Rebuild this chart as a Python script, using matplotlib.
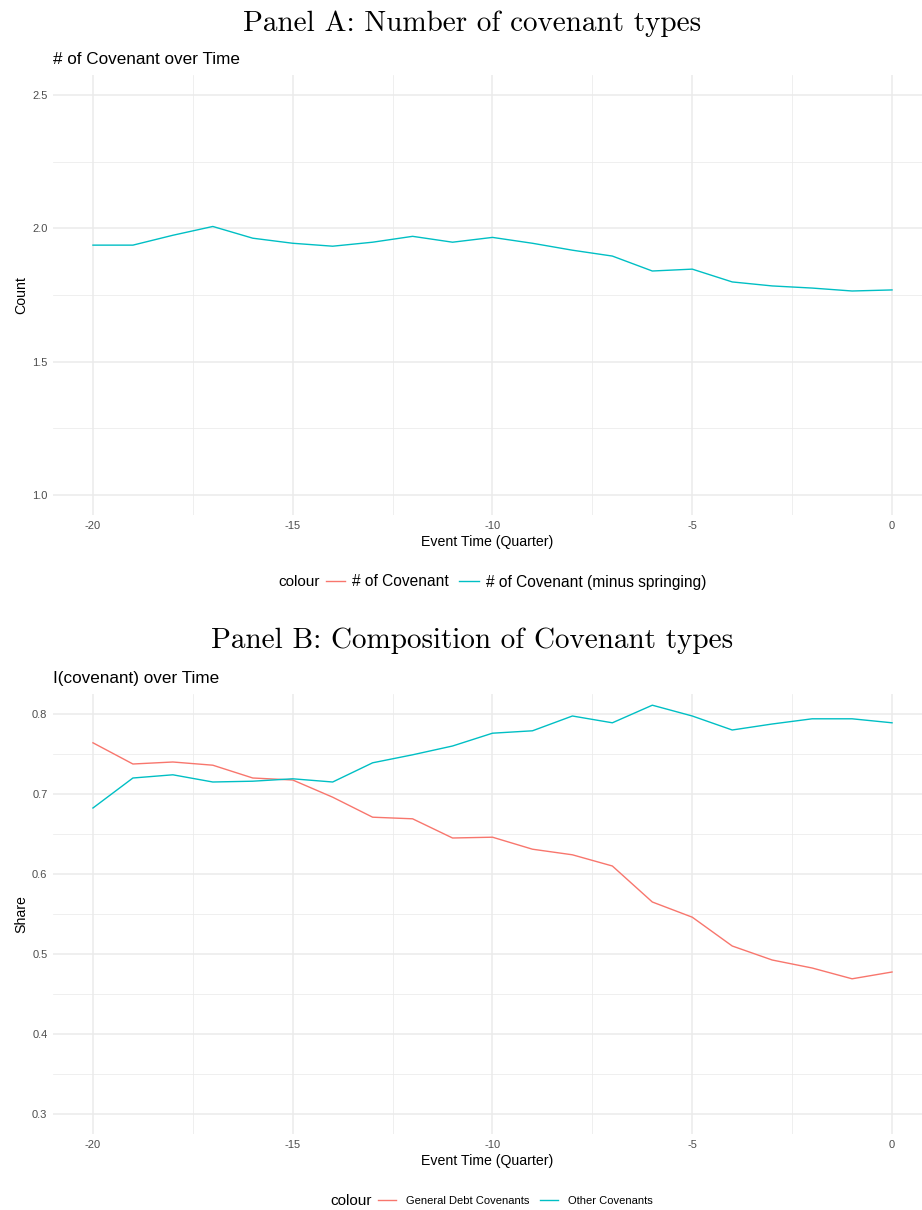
import numpy as np
import matplotlib.pyplot as plt
from matplotlib.lines import Line2D
from matplotlib.ticker import MultipleLocator

plt.rcParams["font.family"] = ["Liberation Sans", "DejaVu Sans"]
plt.rcParams["axes.unicode_minus"] = False

# event time (quarters before event)
quarters = list(range(-20, 1))

# Panel A: number of covenant types (minus springing)
n_cov_minus_spring = [1.937, 1.937, 1.974, 2.007, 1.963, 1.944, 1.933, 1.948, 1.970, 1.948,
                      1.966, 1.944, 1.918, 1.896, 1.840, 1.847, 1.799, 1.784, 1.776, 1.765, 1.769]

# Panel B: share of covenant types
general_debt = [0.764, 0.7375, 0.740, 0.736, 0.720, 0.7175, 0.696, 0.671, 0.669, 0.645,
                0.646, 0.631, 0.624, 0.610, 0.565, 0.546, 0.510, 0.4925, 0.4825, 0.469, 0.4775]
other_cov = [0.6825, 0.720, 0.724, 0.715, 0.716, 0.719, 0.715, 0.739, 0.749, 0.760,
             0.776, 0.779, 0.7975, 0.789, 0.811, 0.7975, 0.780, 0.7875, 0.794, 0.794, 0.789]

RED = "#F8766D"
CYAN = "#00BFC4"
GRID = "#EBEBEB"
TICK = "#4D4D4D"

W, H = 922, 1210
fig = plt.figure(figsize=(W / 100, H / 100), dpi=100)


def px_axes(left, top, right, bottom):
    return fig.add_axes([left / W, 1 - bottom / H, (right - left) / W, (bottom - top) / H])


def style(ax, ylo, yhi, ystep):
    ax.set_xlim(-21, 0.75)
    ax.set_ylim(ylo, yhi)
    ax.xaxis.set_major_locator(MultipleLocator(5))
    ax.xaxis.set_minor_locator(MultipleLocator(2.5))
    ax.yaxis.set_major_locator(MultipleLocator(ystep))
    ax.yaxis.set_minor_locator(MultipleLocator(ystep / 2))
    ax.grid(True, which="major", color=GRID, lw=1.1)
    ax.grid(True, which="minor", color=GRID, lw=0.55)
    ax.set_axisbelow(True)
    for s in ax.spines.values():
        s.set_visible(False)
    ax.tick_params(which="both", length=0, labelsize=8, labelcolor=TICK, pad=4)
    ax.set_xlabel("Event Time (Quarter)", fontsize=10.2, labelpad=3)


# ---- Panel A
fig.text(472 / W, 1 - 24 / H, "Panel A: Number of covenant types", family="cmr10",
         fontsize=21, ha="center", va="center")
axA = px_axes(53, 75, 922, 515)
axA.plot(quarters, n_cov_minus_spring, color=CYAN, lw=1.0)
style(axA, 0.925, 2.575, 0.5)
axA.set_yticks([1.0, 1.5, 2.0, 2.5])
axA.yaxis.set_major_formatter(lambda v, p: f"{v:.1f}")
axA.set_ylabel("Count", fontsize=10.2, labelpad=3)
fig.text(53 / W, 1 - 59 / H, "# of Covenant over Time", fontsize=12.3, va="center")

fig.text(278 / W, 1 - 582 / H, "colour", fontsize=11, va="center")
handlesA = [Line2D([], [], color=RED, lw=1.0), Line2D([], [], color=CYAN, lw=1.0)]
fig.legend(handlesA, ["# of Covenant", "# of Covenant (minus springing)"],
           loc="center left", bbox_to_anchor=(326 / W, 1 - 582 / H), ncol=2,
           frameon=False, fontsize=11.2, handlelength=1.25, handletextpad=0.45,
           columnspacing=0.65, borderpad=0, borderaxespad=0)

# ---- Panel B
fig.text(472 / W, 1 - 641 / H, "Panel B: Composition of Covenant types", family="cmr10",
         fontsize=21, ha="center", va="center")
axB = px_axes(53, 694, 922, 1134)
axB.plot(quarters, general_debt, color=RED, lw=1.0)
axB.plot(quarters, other_cov, color=CYAN, lw=1.0)
style(axB, 0.275, 0.825, 0.1)
axB.set_yticks([0.3, 0.4, 0.5, 0.6, 0.7, 0.8])
axB.yaxis.set_major_formatter(lambda v, p: f"{v:.1f}")
axB.set_ylabel("Share", fontsize=10.2, labelpad=3)
fig.text(53 / W, 1 - 678 / H, "I(covenant) over Time", fontsize=12.3, va="center")

fig.text(330 / W, 1 - 1201 / H, "colour", fontsize=11, va="center")
handlesB = [Line2D([], [], color=RED, lw=1.0), Line2D([], [], color=CYAN, lw=1.0)]
fig.legend(handlesB, ["General Debt Covenants", "Other Covenants"],
           loc="center left", bbox_to_anchor=(378 / W, 1 - 1201 / H), ncol=2,
           frameon=False, fontsize=8.0, handlelength=1.65, handletextpad=0.9,
           columnspacing=0.9, borderpad=0, borderaxespad=0)

fig.savefig("out.png", dpi=100)
